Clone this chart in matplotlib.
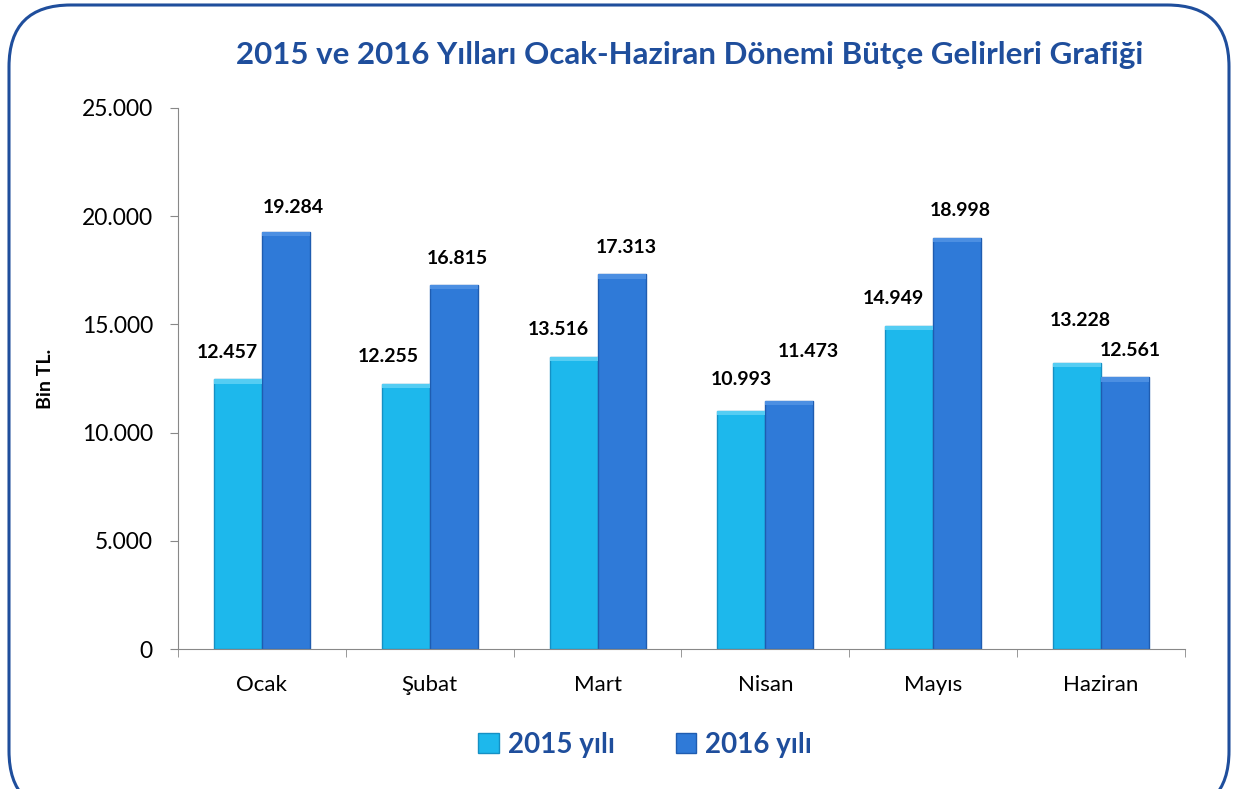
import numpy as np
import matplotlib.pyplot as plt
from matplotlib.patches import FancyBboxPatch, Rectangle
from matplotlib.ticker import FuncFormatter

months = ['Ocak', 'Şubat', 'Mart', 'Nisan', 'Mayıs', 'Haziran']
gelir_2015 = [12457, 12255, 13516, 10993, 14949, 13228]
gelir_2016 = [19284, 16815, 17313, 11473, 18998, 12561]
series_names = ['2015 yılı', '2016 yılı']

# label nudges in pixels (dx, extra dy) as placed in the original
dx_2015 = [-11, -17, -15, 0, -16, 3]
dx_2016 = [7, 4, 5, 19, 3, 5]
dy_2015 = [0, 0, 0, 5, 0, 15]
dy_2016 = [-3, 0, 0, 22, 0, 0]

c2015 = '#1DB8EC'
c2016 = '#2F7AD8'
edge2015 = '#1590C4'
edge2016 = '#1F5CB0'
navy = '#1F4E9C'

plt.rcParams['font.family'] = ['Lato', 'DejaVu Sans']

fig = plt.figure(figsize=(12.33, 7.89), dpi=100)
ax = fig.add_axes([178 / 1233, 1 - 649 / 789, (1185 - 178) / 1233, (649 - 108) / 789])

# rounded frame
frame = FancyBboxPatch((9 / 1233, -0.03), 1220 / 1233, 1.03 - 5 / 789,
                       boxstyle='round,pad=0,rounding_size=0.05', transform=fig.transFigure,
                       facecolor='none', edgecolor=navy, linewidth=2.2, mutation_aspect=1233 / 789)
fig.patches.append(frame)

x = np.arange(len(months))
w = 0.286
b1 = ax.bar(x - w / 2, gelir_2015, w, color=c2015, edgecolor=edge2015, linewidth=1.0)
b2 = ax.bar(x + w / 2, gelir_2016, w, color=c2016, edgecolor=edge2016, linewidth=1.0)

# soft bevel caps on top of each bar
for bars, cap in ((b1, '#55CDF3'), (b2, '#4C8FE2')):
    for r in bars:
        ax.add_patch(Rectangle((r.get_x(), r.get_height() - 200), r.get_width(), 200,
                               facecolor=cap, edgecolor='none', zorder=3))

fmt = lambda v: f'{v:,.0f}'.replace(',', '.')
for bars, dxs, dys in ((b1, dx_2015, dy_2015), (b2, dx_2016, dy_2016)):
    for r, dx, dy in zip(bars, dxs, dys):
        ax.annotate(fmt(r.get_height()), (r.get_x() + r.get_width() / 2, r.get_height()),
                    xytext=(dx * 0.72, (27 + dy) * 0.72), textcoords='offset points',
                    ha='center', va='center', fontsize=14, fontweight='bold', color='black')

ax.set_xlim(-0.5, len(months) - 0.5)
ax.set_ylim(0, 25000)
ax.set_yticks(range(0, 25001, 5000))
ax.yaxis.set_major_formatter(FuncFormatter(lambda v, p: fmt(v)))
ax.set_xticks(x)
ax.set_xticklabels(months)
ax.set_xticks(np.arange(-0.5, len(months), 1), minor=True)
ax.tick_params(axis='x', which='major', length=0, pad=19, labelsize=16)
ax.tick_params(axis='x', which='minor', length=6, color='#888888', direction='out')
ax.tick_params(axis='y', length=6, color='#888888', labelsize=16.5, pad=12)

for s in ('top', 'right'):
    ax.spines[s].set_visible(False)
ax.spines['left'].set_color('#888888')
ax.spines['bottom'].set_color('#888888')

ax.set_ylabel('Bin TL.', fontsize=14, fontweight='bold', labelpad=20)

fig.text(690 / 1233, 1 - 55 / 789, '2015 ve 2016 Yılları Ocak-Haziran Dönemi Bütçe Gelirleri Grafiği',
         ha='center', va='center', fontsize=22.5, fontweight='bold', color=navy)

leg = ax.legend([b1, b2], series_names, loc='center', bbox_to_anchor=((645 - 178) / 1007, (649 - 745) / 541),
                ncol=2, frameon=False, fontsize=20, handlelength=0.75, handleheight=0.75,
                columnspacing=2.2, handletextpad=0.3)
for t in leg.get_texts():
    t.set_color(navy)
    t.set_fontweight('bold')

fig.savefig('out.png', dpi=100)
